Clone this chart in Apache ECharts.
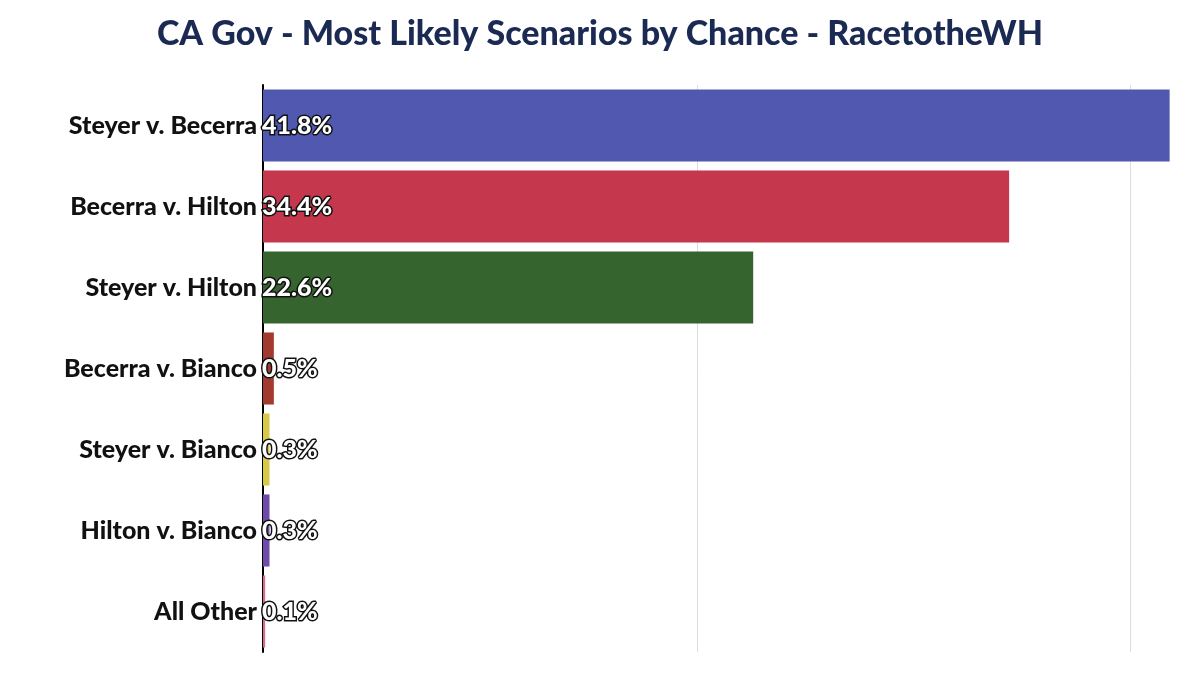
<!DOCTYPE html>
<html><head><meta charset="utf-8">
<script src="https://cdn.jsdelivr.net/npm/echarts@6/dist/echarts.min.js"></script>
<style>html,body{margin:0;background:#fff}#c{width:1200px;height:679px}</style>
</head><body><div id="c"></div>
<script>
// scenarios, top to bottom
const scenarios=['Steyer v. Becerra','Becerra v. Hilton','Steyer v. Hilton','Becerra v. Bianco','Steyer v. Bianco','Hilton v. Bianco','All Other'];
const chances=[41.8,34.4,22.6,0.5,0.3,0.3,0.1];
const barColors=['#5058B0','#C4374C','#36642E','#A23A30','#D8C84A','#6E4AAA','#D86A90'];

const chart=echarts.init(document.getElementById('c'));
chart.setOption({
  animation:false,
  title:{
    text:'CA Gov - Most Likely Scenarios by Chance - RacetotheWH',
    left:'center',top:12,
    textStyle:{fontFamily:'Lato',fontWeight:900,fontSize:34,color:'#1B2A52'}
  },
  grid:{left:263,right:0,top:85,height:567,containLabel:false},
  xAxis:{
    type:'value',min:0,max:43.2,interval:20,
    axisLabel:{show:false},axisTick:{show:false},axisLine:{show:false},
    splitLine:{lineStyle:{color:'#dddddd',width:1}}
  },
  yAxis:{
    type:'category',inverse:true,data:scenarios,
    axisTick:{show:false},
    axisLine:{lineStyle:{color:'#000',width:2}},
    axisLabel:{fontFamily:'Lato',fontWeight:900,fontSize:25,color:'#111',margin:6}
  },
  series:[{
    type:'bar',barCategoryGap:'11%',
    data:chances.map((v,i)=>({value:v,itemStyle:{color:barColors[i]}})),
    label:{
      show:true,position:'insideLeft',offset:[-6,0],distance:5,
      formatter:p=>p.value+'%',
      fontFamily:'Lato',fontWeight:900,fontSize:25,color:'#fff',
      textBorderColor:'#111',textBorderWidth:3
    }
  }]
});
</script></body></html>
